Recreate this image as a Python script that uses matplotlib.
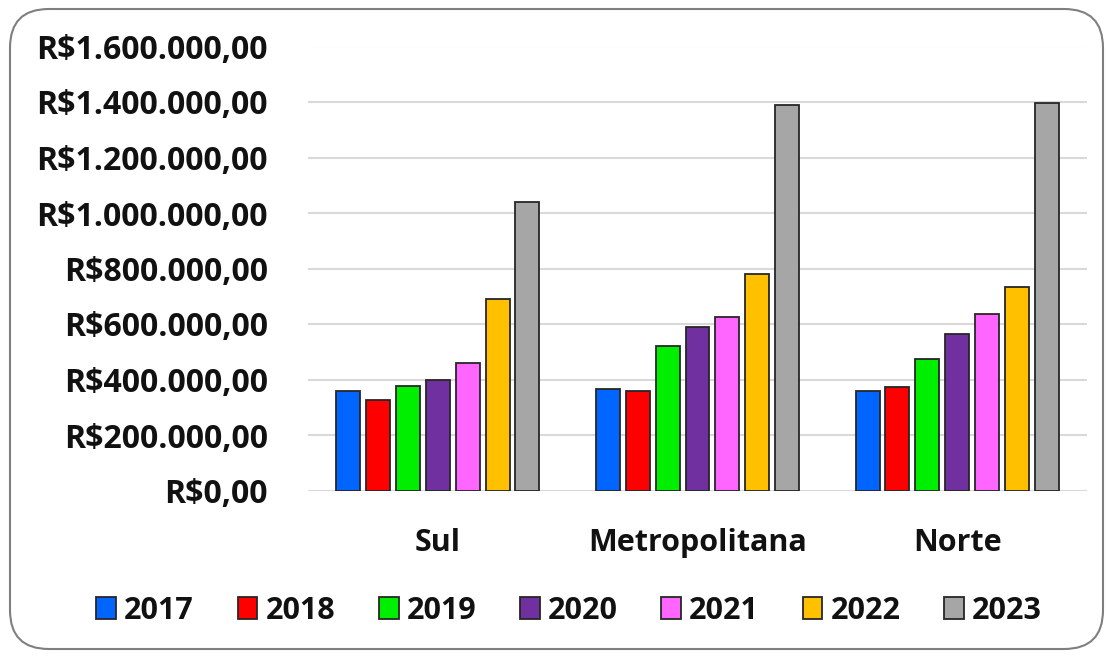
import numpy as np
import matplotlib.pyplot as plt
from matplotlib.patches import FancyBboxPatch
from matplotlib.ticker import FuncFormatter

regioes = ["Sul", "Metropolitana", "Norte"]
anos = ["2017", "2018", "2019", "2020", "2021", "2022", "2023"]

v2017 = [360000, 367000, 360000]
v2018 = [326000, 360000, 372000]
v2019 = [378000, 521000, 473000]
v2020 = [398000, 589000, 564000]
v2021 = [461000, 626000, 636000]
v2022 = [689000, 779000, 734000]
v2023 = [1040000, 1388000, 1395000]

valores = [v2017, v2018, v2019, v2020, v2021, v2022, v2023]
cores = ["#0066ff", "#ff0000", "#00ee00", "#7030a0", "#ff66ff", "#ffc000", "#a6a6a6"]

plt.rcParams['font.family'] = ['Open Sans', 'DejaVu Sans']

fig = plt.figure(figsize=(11.09, 6.57), dpi=100)
ax = fig.add_axes([308/1109, 1 - 490.5/657, (1087-308)/1109, 444/657])

# moldura arredondada
borda = FancyBboxPatch((10/1109, 8/657), 1093/1109, 640/657,
                       boxstyle="round,pad=0,rounding_size=0.035",
                       transform=fig.transFigure, facecolor="none",
                       edgecolor="#7f7f7f", linewidth=1.5, mutation_aspect=1109/657)
fig.patches.append(borda)

x = np.arange(len(regioes))
passo = 0.115
larg = 0.092
for i, (ano, vals, cor) in enumerate(zip(anos, valores, cores)):
    pos = x + (i - 3) * passo
    ax.bar(pos, vals, width=larg, color=cor, edgecolor="#262626", linewidth=1.3,
           label=ano, zorder=3)

def fmt(v, p):
    s = f"{int(v):,}".replace(",", ".")
    return f"R${s},00"

ax.set_ylim(0, 1600000)
ax.set_yticks(np.arange(0, 1600001, 200000))
ax.yaxis.set_major_formatter(FuncFormatter(fmt))
ax.set_xlim(-0.5, 2.5)
ax.set_xticks(x)
ax.set_xticklabels(regioes)
ax.grid(axis="y", color="#d9d9d9", linewidth=1.5, zorder=0)
for s in ax.spines.values():
    s.set_visible(False)
ax.tick_params(axis="y", length=0, labelsize=23, pad=29)
ax.tick_params(axis="x", length=0, labelsize=22, pad=27)
for lbl in ax.get_xticklabels() + ax.get_yticklabels():
    lbl.set_fontweight("bold")
    lbl.set_color("#111111")

leg = fig.legend(loc="center", bbox_to_anchor=(569/1109, 1 - 611/657), ncol=7,
                 frameon=False, prop={"weight": "bold", "size": 22},
                 handlelength=0.65, handleheight=0.72, handletextpad=0.26,
                 columnspacing=1.43, borderpad=0, borderaxespad=0)
for t in leg.get_texts():
    t.set_color("#111111")

fig.savefig("out.png", dpi=100)
